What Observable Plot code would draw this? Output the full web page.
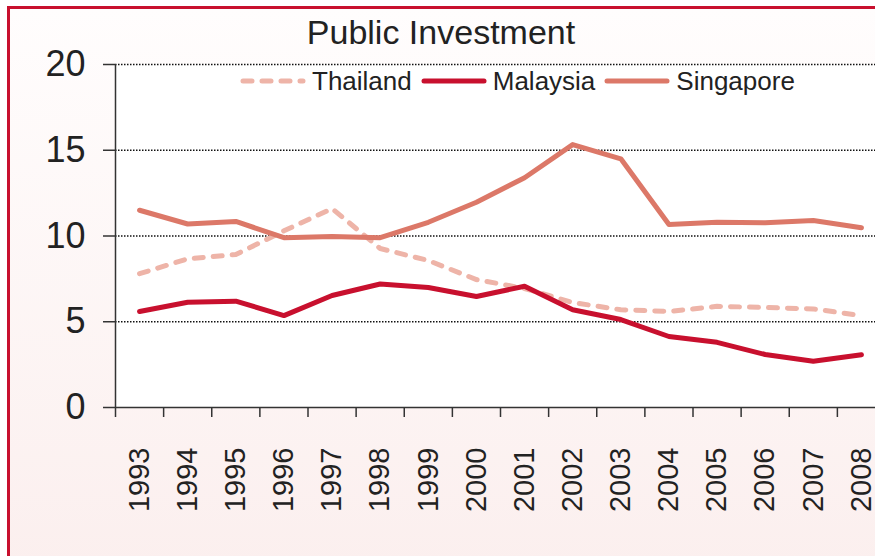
<!DOCTYPE html>
<html><head><meta charset="utf-8">
<script src="https://cdn.jsdelivr.net/npm/d3@7"></script>
<script src="https://cdn.jsdelivr.net/npm/@observablehq/plot@0.6"></script>
<style>
html,body{margin:0;padding:0;width:875px;height:556px;overflow:hidden;background:#fff;}
body{position:relative;font-family:Arial,"Liberation Sans",sans-serif;color:#222;}
#frame{position:absolute;left:7px;top:6px;width:900px;height:600px;border:3px solid #c8102e;background:linear-gradient(#fffdfd,#fbeeed);}
#chart{position:absolute;left:0;top:0;}
#title{position:absolute;left:0;width:882px;text-align:center;top:15px;font-size:34px;line-height:34px;}
#legend{position:absolute;left:240px;top:68px;display:flex;align-items:center;font-size:26px;line-height:26px;}
#legend .item{display:flex;align-items:center;margin-right:9px;}
#legend svg{margin-right:6px;display:block;}
</style></head>
<body>
<div id="frame"></div>
<div id="chart"></div>
<div id="title">Public Investment</div>
<div id="legend"></div>
<script>
const years = [1993,1994,1995,1996,1997,1998,1999,2000,2001,2002,2003,2004,2005,2006,2007,2008];
const thailand  = [7.8,8.67,8.92,10.3,11.6,9.27,8.57,7.46,6.94,6.12,5.7,5.6,5.9,5.83,5.75,5.36];
const malaysia  = [5.6,6.14,6.2,5.36,6.53,7.2,7.0,6.47,7.07,5.7,5.13,4.14,3.8,3.09,2.7,3.07];
const singapore = [11.5,10.7,10.85,9.9,9.97,9.9,10.8,11.97,13.4,15.33,14.5,10.67,10.8,10.77,10.9,10.48];
const yTicks = [0,5,10,15,20];
const countries = ["Thailand","Malaysia","Singapore"];
const colors = {Thailand:"#eeb4a8", Malaysia:"#c8102e", Singapore:"#dc7868"};
const dashes = {Thailand:"9,10", Malaysia:null, Singapore:null};

const series = {Thailand: thailand, Malaysia: malaysia, Singapore: singapore};
const edgeTicks = years.map(y => y - 0.5);

const lineMarks = countries.map(c => Plot.line(years.map((y,i)=>({year:y, value:series[c][i]})), {
  x:"year", y:"value", stroke: colors[c], strokeWidth:5, strokeDasharray: dashes[c],
  strokeLinecap:"round", strokeLinejoin:"round"
}));

const chart = Plot.plot({
  width:875, height:556,
  marginLeft:115, marginRight:0, marginTop:64, marginBottom:149,
  x:{type:"linear", domain:[1992.5,2008.5], range:[115,885]},
  y:{domain:[0,20]},
  style:{background:"transparent", overflow:"visible", maxWidth:"none", fontFamily:"Arial, 'Liberation Sans', sans-serif", color:"#222"},
  marks:[
    Plot.frame({fill:"white", stroke:null}),
    Plot.gridY([5,10,15,20], {stroke:"#111", strokeOpacity:1, strokeDasharray:"1.5,1.5", strokeWidth:1.5}),
    Plot.axisY(yTicks, {tickSize:12, tickPadding:18, fontSize:36, stroke:"#333", strokeWidth:1.5, label:null, tickFormat:d=>String(d)}),
    Plot.axisX(edgeTicks, {tickSize:10, tickPadding:0, stroke:"#333", strokeWidth:1.5, label:null, tickFormat:()=>""}),
    Plot.text(years, {x:d=>d, frameAnchor:"bottom", dy:40, rotate:-90, textAnchor:"end", lineAnchor:"middle", fontSize:29, fill:"#222", text:d=>String(d)}),
    Plot.ruleY([0], {stroke:"#333", strokeWidth:1.5}),
    Plot.ruleX([1992.5], {stroke:"#333", strokeWidth:1.5}),
    ...lineMarks
  ]
});
document.getElementById("chart").appendChild(chart);

const legend = document.getElementById("legend");
for (const c of countries) {
  const item = document.createElement("div");
  item.className = "item";
  const ns = "http://www.w3.org/2000/svg";
  const s = document.createElementNS(ns, "svg");
  s.setAttribute("width", 66); s.setAttribute("height", 10);
  const l = document.createElementNS(ns, "line");
  l.setAttribute("x1", 3); l.setAttribute("x2", 63); l.setAttribute("y1", 5); l.setAttribute("y2", 5);
  l.setAttribute("stroke", colors[c]); l.setAttribute("stroke-width", 5); l.setAttribute("stroke-linecap", "round");
  if (dashes[c]) l.setAttribute("stroke-dasharray", dashes[c]);
  s.appendChild(l);
  item.appendChild(s);
  const t = document.createElement("span");
  t.textContent = c;
  item.appendChild(t);
  legend.appendChild(item);
}
</script>
</body></html>
